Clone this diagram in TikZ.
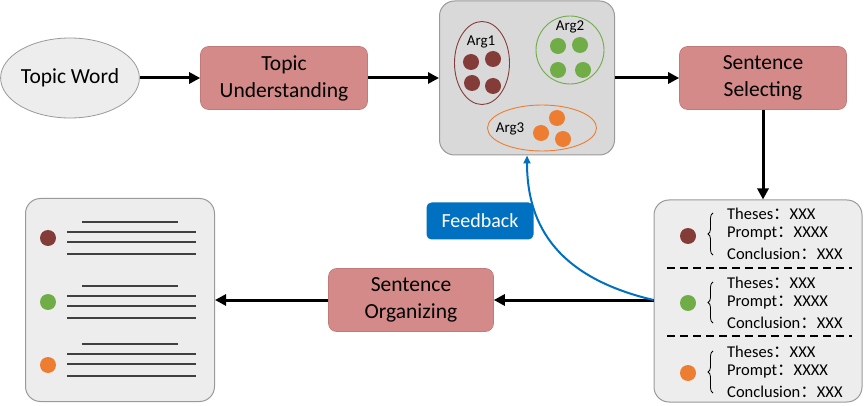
\documentclass[tikz,border=0pt]{standalone}
\usepackage{fontspec}
\setmainfont{Carlito}
\newfontfamily\cjk{Noto Sans CJK SC}
\usetikzlibrary{arrows.meta,shapes.geometric,decorations.pathreplacing}
\definecolor{pinkc}{HTML}{D48A89}
\definecolor{pinkd}{HTML}{C07A79}
\definecolor{darkred}{HTML}{843C39}
\definecolor{greenc}{HTML}{70AD47}
\definecolor{orangec}{HTML}{ED7D31}
\definecolor{argfill}{HTML}{D9D9D9}
\definecolor{panelfill}{HTML}{EDEDED}
\definecolor{grayb}{HTML}{9A9A9A}
\definecolor{bluec}{HTML}{0070C0}
\newcommand{\fcolon}{{\cjk ：}}
\begin{document}
\begin{tikzpicture}[x=1pt,y=-1pt,
  every node/.style={font=\fontsize{21.5}{27}\selectfont},
  proc/.style={rectangle, rounded corners=8pt, fill=pinkc, draw=pinkd, line width=0.6pt, minimum width=167pt, minimum height=63pt, align=center, inner sep=0pt},
  flow/.style={line width=3pt, -{Triangle[length=11pt,width=11pt]}},
  panel/.style={rectangle, rounded corners=15pt, draw=grayb, line width=1pt, inner sep=0pt},
  dot/.style={circle, inner sep=0pt, minimum size=16pt},
  arglab/.style={font=\fontsize{15}{17}\selectfont},
  item/.style={anchor=west, inner sep=0pt, font=\fontsize{16.5}{18}\selectfont},
  textline/.style={line width=1.3pt, draw=black!75},
  sep/.style={line width=2pt, dash pattern=on 8pt off 5pt},
  brc/.style={decorate, decoration={brace, amplitude=5pt}, line width=0.8pt}
]
\useasboundingbox (0,0) rectangle (865,406);

% top row
\node[ellipse, draw=grayb, fill=panelfill, line width=0.8pt, minimum width=120pt, minimum height=80pt, inner sep=0pt] (tw) at (70,78) {Topic Word};
\node[proc] (tu) at (284,78) {Topic\\Understanding};
\node[panel, fill=argfill, minimum width=175pt, minimum height=154pt] (args) at (527,78) {};
\node[proc] (ss) at (763,78) {Sentence\\Selecting};

% args content
\node[ellipse, draw=darkred, line width=0.9pt, minimum width=55pt, minimum height=83pt] (a1) at (482,63) {};
\node[arglab] (a1l) at (481,42) {Arg1};
\node[dot, fill=darkred] (a1d1) at (471,62) {};
\node[dot, fill=darkred] (a1d2) at (493,59) {};
\node[dot, fill=darkred] (a1d3) at (472,83) {};
\node[dot, fill=darkred] (a1d4) at (493,86) {};

\node[circle, draw=greenc, line width=0.9pt, minimum size=68pt] (a2) at (570,50) {};
\node[arglab] (a2l) at (570,27) {Arg2};
\node[dot, fill=greenc] (a2d1) at (558,46) {};
\node[dot, fill=greenc] (a2d2) at (580,45) {};
\node[dot, fill=greenc] (a2d3) at (558,70) {};
\node[dot, fill=greenc] (a2d4) at (583,70) {};

\node[ellipse, draw=orangec, line width=0.9pt, minimum width=109pt, minimum height=46pt] (a3) at (542,128) {};
\node[arglab] (a3l) at (510,129) {Arg3};
\node[dot, fill=orangec] (a3d1) at (557,118) {};
\node[dot, fill=orangec] (a3d2) at (541,133) {};
\node[dot, fill=orangec] (a3d3) at (563,139) {};

% bottom row
\node[panel, fill=panelfill, minimum width=208pt, minimum height=202pt] (rp) at (758,301) {};
\node[proc, minimum width=165pt] (so) at (411,300) {Sentence\\Organizing};
\node[panel, fill=panelfill, minimum width=189pt, minimum height=203pt] (lp) at (120,300) {};
\node[rectangle, rounded corners=5pt, fill=bluec, text=white, minimum width=107pt, minimum height=37pt, inner sep=0pt, font=\fontsize{20}{22}\selectfont] (fb) at (480,221) {Feedback};

% right panel content
\node[dot, fill=darkred] (r1) at (688,236) {};
\node[dot, fill=greenc] (r2) at (688,303) {};
\node[dot, fill=orangec] (r3) at (688,373) {};
\draw[brc] (713,255) -- (713,213);
\draw[brc] (713,323) -- (713,282);
\draw[brc] (713,393) -- (713,351);
\foreach \y [count=\i] in {214,283,352}{
  \node[item] (th\i) at (727,\y) {Theses\fcolon XXX};
  \node[item] (pr\i) at (727,\y+20) {Prompt\fcolon XXXX};
  \node[item] (co\i) at (727,\y+40) {Conclusion\fcolon XXX};
}
\draw[sep] (667,268) -- (852,268);
\draw[sep] (667,336) -- (852,336);

% left panel content
\node[dot, fill=darkred] (l1) at (48,238) {};
\node[dot, fill=greenc] (l2) at (48,302) {};
\node[dot, fill=orangec] (l3) at (48,365) {};
\foreach \y in {222,286,344}{
  \draw[textline] (82,\y) -- (178,\y);
  \draw[textline] (67,\y+10) -- (196,\y+10);
  \draw[textline] (67,\y+20) -- (196,\y+20);
  \draw[textline] (67,\y+32) -- (196,\y+32);
}

% connectors
\draw[flow] (tw) -- (tu);
\draw[flow] (tu) -- (args);
\draw[flow] (args) -- (ss);
\draw[flow] (ss.south) -- (ss.south |- rp.north);
\draw[flow] (rp.west |- so.east) -- (so.east);
\draw[flow] (so.west) -- (so.west -| lp.east);
\draw[bluec, line width=2pt, -{Triangle[length=8pt,width=7pt]}] (rp.west |- so.east) .. controls (560,278) and (527,228) .. (args.south);
\end{tikzpicture}
\end{document}
